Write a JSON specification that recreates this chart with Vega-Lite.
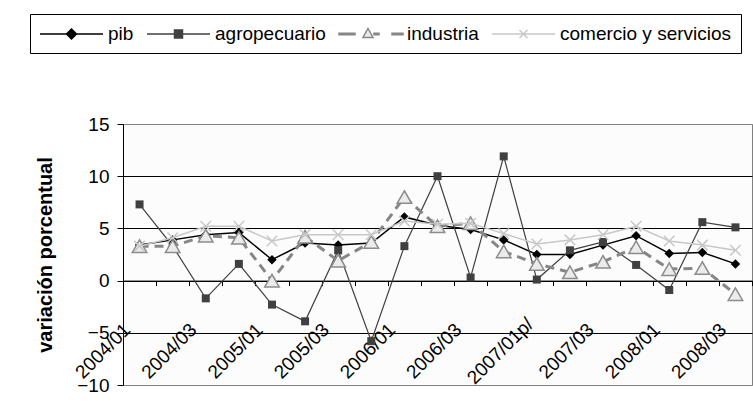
{
  "$schema": "https://vega.github.io/schema/vega-lite/v6.json",
  "width": 629,
  "height": 261,
  "autosize": {"type": "none"},
  "padding": {"left": 123, "top": 124, "right": 1, "bottom": 27},
  "background": "white",
  "config": {
    "font": "Liberation Sans",
    "view": {"stroke": "#808080", "fill": "#fcfcfc"},
    "legend": {
      "labelFontSize": 19,
      "labelColor": "black",
      "labelFont": "Liberation Sans",
      "labelOffset": 47,
      "columnPadding": 10,
      "padding": 9,
      "strokeColor": "black",
      "fillColor": "white",
      "symbolSize": 400,
      "symbolStrokeWidth": 1.5,
      "labelLimit": 400
    }
  },
  "data": {
    "values": [
      {"t": "2004/01", "serie": "pib", "v": 3.4},
      {"t": "2004/02", "serie": "pib", "v": 3.9},
      {"t": "2004/03", "serie": "pib", "v": 4.4},
      {"t": "2004/04", "serie": "pib", "v": 4.6},
      {"t": "2005/01", "serie": "pib", "v": 2.0},
      {"t": "2005/02", "serie": "pib", "v": 3.6},
      {"t": "2005/03", "serie": "pib", "v": 3.4},
      {"t": "2005/04", "serie": "pib", "v": 3.6},
      {"t": "2006/01", "serie": "pib", "v": 6.1},
      {"t": "2006/02", "serie": "pib", "v": 5.3},
      {"t": "2006/03", "serie": "pib", "v": 4.9},
      {"t": "2006/04", "serie": "pib", "v": 3.9},
      {"t": "2007/01p/", "serie": "pib", "v": 2.5},
      {"t": "2007/02", "serie": "pib", "v": 2.5},
      {"t": "2007/03", "serie": "pib", "v": 3.4},
      {"t": "2007/04", "serie": "pib", "v": 4.3},
      {"t": "2008/01", "serie": "pib", "v": 2.6},
      {"t": "2008/02", "serie": "pib", "v": 2.7},
      {"t": "2008/03", "serie": "pib", "v": 1.6},
      {"t": "2004/01", "serie": "agropecuario", "v": 7.3},
      {"t": "2004/02", "serie": "agropecuario", "v": 3.3},
      {"t": "2004/03", "serie": "agropecuario", "v": -1.7},
      {"t": "2004/04", "serie": "agropecuario", "v": 1.6},
      {"t": "2005/01", "serie": "agropecuario", "v": -2.3},
      {"t": "2005/02", "serie": "agropecuario", "v": -3.9},
      {"t": "2005/03", "serie": "agropecuario", "v": 2.9},
      {"t": "2005/04", "serie": "agropecuario", "v": -5.8},
      {"t": "2006/01", "serie": "agropecuario", "v": 3.3},
      {"t": "2006/02", "serie": "agropecuario", "v": 10.0},
      {"t": "2006/03", "serie": "agropecuario", "v": 0.3},
      {"t": "2006/04", "serie": "agropecuario", "v": 11.9},
      {"t": "2007/01p/", "serie": "agropecuario", "v": 0.1},
      {"t": "2007/02", "serie": "agropecuario", "v": 2.9},
      {"t": "2007/03", "serie": "agropecuario", "v": 3.7},
      {"t": "2007/04", "serie": "agropecuario", "v": 1.5},
      {"t": "2008/01", "serie": "agropecuario", "v": -0.9},
      {"t": "2008/02", "serie": "agropecuario", "v": 5.6},
      {"t": "2008/03", "serie": "agropecuario", "v": 5.1},
      {"t": "2004/01", "serie": "industria", "v": 3.3},
      {"t": "2004/02", "serie": "industria", "v": 3.3},
      {"t": "2004/03", "serie": "industria", "v": 4.3},
      {"t": "2004/04", "serie": "industria", "v": 4.1},
      {"t": "2005/01", "serie": "industria", "v": 0.0},
      {"t": "2005/02", "serie": "industria", "v": 4.2},
      {"t": "2005/03", "serie": "industria", "v": 1.9},
      {"t": "2005/04", "serie": "industria", "v": 3.7},
      {"t": "2006/01", "serie": "industria", "v": 8.0},
      {"t": "2006/02", "serie": "industria", "v": 5.2},
      {"t": "2006/03", "serie": "industria", "v": 5.5},
      {"t": "2006/04", "serie": "industria", "v": 2.8},
      {"t": "2007/01p/", "serie": "industria", "v": 1.6},
      {"t": "2007/02", "serie": "industria", "v": 0.8},
      {"t": "2007/03", "serie": "industria", "v": 1.8},
      {"t": "2007/04", "serie": "industria", "v": 3.2},
      {"t": "2008/01", "serie": "industria", "v": 1.1},
      {"t": "2008/02", "serie": "industria", "v": 1.2},
      {"t": "2008/03", "serie": "industria", "v": -1.3},
      {"t": "2004/01", "serie": "comercio y servicios", "v": 3.3},
      {"t": "2004/02", "serie": "comercio y servicios", "v": 4.1},
      {"t": "2004/03", "serie": "comercio y servicios", "v": 5.2},
      {"t": "2004/04", "serie": "comercio y servicios", "v": 5.2},
      {"t": "2005/01", "serie": "comercio y servicios", "v": 3.8},
      {"t": "2005/02", "serie": "comercio y servicios", "v": 4.4},
      {"t": "2005/03", "serie": "comercio y servicios", "v": 4.4},
      {"t": "2005/04", "serie": "comercio y servicios", "v": 4.4},
      {"t": "2006/01", "serie": "comercio y servicios", "v": 5.7},
      {"t": "2006/02", "serie": "comercio y servicios", "v": 5.4},
      {"t": "2006/03", "serie": "comercio y servicios", "v": 5.5},
      {"t": "2006/04", "serie": "comercio y servicios", "v": 4.5},
      {"t": "2007/01p/", "serie": "comercio y servicios", "v": 3.5},
      {"t": "2007/02", "serie": "comercio y servicios", "v": 3.9},
      {"t": "2007/03", "serie": "comercio y servicios", "v": 4.4},
      {"t": "2007/04", "serie": "comercio y servicios", "v": 5.2},
      {"t": "2008/01", "serie": "comercio y servicios", "v": 3.8},
      {"t": "2008/02", "serie": "comercio y servicios", "v": 3.4},
      {"t": "2008/03", "serie": "comercio y servicios", "v": 2.9}
    ]
  },
  "encoding": {
    "x": {
      "field": "t",
      "type": "ordinal",
      "bandPosition": 0.5,
      "scale": {
        "type": "band",
        "paddingInner": 0,
        "paddingOuter": 0,
        "domain": ["2004/01", "2004/02", "2004/03", "2004/04", "2005/01", "2005/02", "2005/03", "2005/04", "2006/01", "2006/02", "2006/03", "2006/04", "2007/01p/", "2007/02", "2007/03", "2007/04", "2008/01", "2008/02", "2008/03"]
      },
      "axis": {
        "title": null,
        "offset": -104.4,
        "tickBand": "extent",
        "tickSize": 5,
        "tickColor": "black",
        "domainColor": "black",
        "grid": false,
        "labelAngle": -45,
        "labelAlign": "center",
        "labelBaseline": "middle",
        "labelOffset": -37,
        "labelPadding": 65,
        "labelFontSize": 19,
        "labelColor": "black",
        "labelOverlap": false,
        "labelBound": false,
        "labelFlush": false,
        "labelExpr": "indexof(['2004/01','2004/03','2005/01','2005/03','2006/01','2006/03','2007/01p/','2007/03','2008/01','2008/03'], datum.value) >= 0 ? datum.value : ''"
      }
    },
    "y": {
      "field": "v",
      "type": "quantitative",
      "scale": {"domain": [-10, 15], "nice": false, "zero": false},
      "axis": {
        "title": "variación porcentual",
        "values": [-10, -5, 0, 5, 10, 15],
        "tickSize": 6,
        "tickColor": "black",
        "domainColor": "black",
        "labelFontSize": 19,
        "labelPadding": 8,
        "labelColor": "black",
        "grid": true,
        "gridColor": {"condition": {"test": "datum.value == 15 || datum.value == -10", "value": "#808080"}, "value": "black"},
        "gridOpacity": 1,
        "titleFontSize": 20,
        "titleFontWeight": "bold",
        "titleColor": "black",
        "titleX": -78,
        "titleY": 130.5,
        "titleAngle": -90,
        "titleAlign": "center",
        "titleBaseline": "middle"
      }
    }
  },
  "layer": [
    {
      "transform": [{"filter": "datum.serie == 'pib'"}],
      "mark": {"type": "line", "color": "black", "strokeWidth": 1.5}
    },
    {
      "transform": [{"filter": "datum.serie == 'pib'"}],
      "mark": {"type": "point", "shape": "diamond", "filled": true, "color": "black", "opacity": 1, "size": 90}
    },
    {
      "transform": [{"filter": "datum.serie == 'agropecuario'"}],
      "mark": {"type": "line", "color": "#404040", "strokeWidth": 1.2}
    },
    {
      "transform": [{"filter": "datum.serie == 'agropecuario'"}],
      "mark": {"type": "point", "shape": "square", "filled": true, "color": "#404040", "opacity": 1, "size": 64}
    },
    {
      "transform": [{"filter": "datum.serie == 'industria'"}],
      "mark": {"type": "line", "color": "#868686", "strokeWidth": 3, "strokeDash": [9, 6]}
    },
    {
      "transform": [{"filter": "datum.serie == 'industria'"}],
      "mark": {"type": "point", "shape": "triangle-up", "fill": "#ebebeb", "stroke": "#8c8c8c", "strokeWidth": 1.5, "opacity": 1, "size": 210}
    },
    {
      "transform": [{"filter": "datum.serie == 'comercio y servicios'"}],
      "mark": {"type": "line", "color": "#c8c8c8", "strokeWidth": 1.5}
    },
    {
      "transform": [{"filter": "datum.serie == 'comercio y servicios'"}],
      "mark": {"type": "point", "shape": "M-1,-1L1,1M-1,1L1,-1", "filled": false, "color": "#c8c8c8", "strokeWidth": 1.5, "opacity": 1, "size": 110}
    },
    {
      "transform": [{"filter": "datum.v > 100"}],
      "mark": {"type": "point", "filled": true, "opacity": 1, "strokeWidth": 1.5, "size": 400},
      "encoding": {
        "shape": {
          "field": "serie",
          "type": "nominal",
          "title": null,
          "scale": {
            "domain": ["pib", "agropecuario", "industria", "comercio y servicios"],
            "range": [
              "M-1,0H5.3M2.15,-0.5L2.65,0L2.15,0.5L1.65,0Z",
              "M-1,0H5.3M1.75,-0.4H2.55V0.4H1.75Z",
              "M-1,-0.08H0.6V0.08H-1ZM1.9,-0.55L2.4,0.35L1.4,0.35ZM2.5,-0.08H3V0.08H2.5ZM4.3,-0.08H5.4V0.08H4.3Z",
              "M-1,0H5.3M1.75,-0.4L2.55,0.4M1.75,0.4L2.55,-0.4"
            ]
          },
          "legend": {"orient": "none", "legendX": -93, "legendY": -110, "direction": "horizontal", "columns": 4}
        },
        "stroke": {
          "field": "serie",
          "type": "nominal",
          "title": null,
          "scale": {
            "domain": ["pib", "agropecuario", "industria", "comercio y servicios"],
            "range": ["black", "#404040", "#868686", "#c8c8c8"]
          },
          "legend": {"orient": "none", "legendX": -93, "legendY": -110, "direction": "horizontal", "columns": 4}
        },
        "fill": {
          "field": "serie",
          "type": "nominal",
          "title": null,
          "scale": {
            "domain": ["pib", "agropecuario", "industria", "comercio y servicios"],
            "range": ["black", "#404040", "#ebebeb", "#c8c8c8"]
          },
          "legend": {"orient": "none", "legendX": -93, "legendY": -110, "direction": "horizontal", "columns": 4}
        }
      }
    }
  ]
}
